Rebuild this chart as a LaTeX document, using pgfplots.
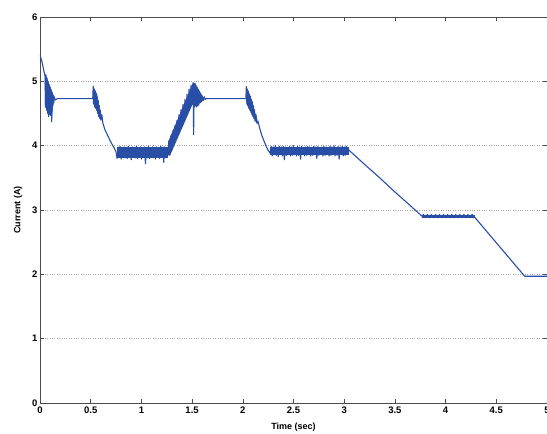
\documentclass[border=0pt]{standalone}
\usepackage{pgfplots}
\pgfplotsset{compat=1.18}
\usepackage{fontspec}
\setmainfont{Liberation Sans}
\definecolor{mblue}{RGB}{40,78,165}
\begin{document}
\begin{tikzpicture}
\begin{axis}[
  scale only axis,
  width=507pt, height=386pt,
  xmin=0, xmax=5, ymin=0, ymax=6,
  xtick={0,0.5,1,1.5,2,2.5,3,3.5,4,4.5,5},
  xticklabels={0,0.5,1,1.5,2,2.5,3,3.5,4,4.5,5},
  ytick={0,1,2,3,4,5,6},
  tick align=inside,
  major tick length=4pt,
  tick style={black!70, line width=0.5pt},
  axis line style={black!70, line width=0.7pt},
  ymajorgrids,
  grid style={dotted, black!35, line width=0.6pt},
  ticklabel style={font=\fontsize{9.5}{10}\selectfont\bfseries},
  /pgf/number format/assume math mode=true,
  xlabel={Time (sec)},
  ylabel={Current (A)},
  label style={font=\fontsize{9}{10}\selectfont\bfseries},
  xlabel style={yshift=-3pt},
  ylabel style={yshift=3pt},
  xticklabel style={yshift=0pt},
  yticklabel style={xshift=1pt},
]
% dense noise bands (envelopes)
\addplot[fill=mblue, draw=mblue, line width=0.6pt] coordinates {(0.05,5.1) (0.09,4.95) (0.13,4.79) (0.13,4.66) (0.115,4.45) (0.085,4.5) (0.05,4.62)} -- cycle;
\addplot[fill=mblue, draw=mblue, line width=0.6pt] coordinates {(0.525,4.9) (0.56,4.8) (0.60,4.48) (0.60,4.40) (0.56,4.56) (0.525,4.66)} -- cycle;
\addplot[fill=mblue, draw=mblue, line width=0.6pt] coordinates {(0.76,3.82) (1.26,3.82) (1.26,3.97) (0.76,3.97)} -- cycle;
\addplot[fill=mblue, draw=mblue, line width=0.6pt] coordinates {(1.26,3.86) (1.27,4.07) (1.51,4.97) (1.53,4.96) (1.60,4.77) (1.60,4.70) (1.53,4.62) (1.50,4.64) (1.28,3.85)} -- cycle;
\addplot[fill=mblue, draw=mblue, line width=0.6pt] coordinates {(2.035,4.9) (2.07,4.77) (2.14,4.40) (2.14,4.35) (2.07,4.56) (2.04,4.65)} -- cycle;
\addplot[fill=mblue, draw=mblue, line width=0.6pt] coordinates {(2.27,3.86) (3.04,3.86) (3.04,3.98) (2.27,3.98)} -- cycle;
\addplot[fill=mblue, draw=mblue, line width=0.6pt] coordinates {(3.77,2.885) (4.28,2.885) (4.28,2.925) (3.77,2.925)} -- cycle;
% signal
\addplot[mblue, line width=1.1pt, line join=round] coordinates {
(0,5.41) (0.02,5.3) (0.04,5.15) (0.05,5.08) (0.055,4.6) (0.06,5.1) (0.065,4.55) (0.07,5.05) (0.075,4.5) (0.08,5.0) (0.085,4.45) (0.09,4.95) (0.095,4.6) (0.1,4.9) (0.105,4.55) (0.11,4.85) (0.115,4.37) (0.12,4.8) (0.125,4.62) (0.13,4.78) (0.135,4.66) (0.14,4.76) (0.15,4.71) (0.17,4.73)
(0.52,4.73) (0.525,4.92) (0.53,4.65) (0.535,4.88) (0.54,4.6) (0.545,4.85) (0.55,4.58) (0.555,4.8) (0.56,4.55) (0.565,4.75) (0.57,4.5) (0.575,4.7) (0.58,4.45) (0.585,4.62) (0.59,4.42) (0.595,4.55) (0.60,4.40) (0.61,4.48) (0.62,4.35) (0.64,4.25) (0.67,4.15) (0.70,4.05) (0.73,3.97) (0.75,3.9)
(0.76,3.80) (0.77,3.98) (0.78,3.82) (0.79,3.99) (0.80,3.79) (0.81,3.97) (0.82,3.83) (0.83,3.98) (0.84,3.81) (0.85,3.96) (0.86,3.80) (0.87,3.99) (0.88,3.82) (0.89,3.97) (0.90,3.78) (0.91,3.98) (0.92,3.83) (0.93,3.96) (0.94,3.81) (0.95,3.99) (0.96,3.80) (0.97,3.97) (0.98,3.82) (0.99,3.98) (1.00,3.79) (1.01,3.96) (1.02,3.83) (1.03,3.98) (1.04,3.72) (1.05,3.97) (1.06,3.81) (1.07,3.99) (1.08,3.80) (1.09,3.97) (1.10,3.82) (1.11,3.98) (1.12,3.81) (1.13,3.96) (1.14,3.79) (1.15,3.98) (1.16,3.83) (1.17,3.97) (1.18,3.80) (1.19,3.99) (1.20,3.82) (1.21,3.97) (1.22,3.74) (1.23,3.98) (1.24,3.81) (1.25,3.97) (1.26,3.85)
(1.27,4.07) (1.28,3.86) (1.29,4.15) (1.30,3.93) (1.31,4.23) (1.32,4.01) (1.33,4.31) (1.34,4.09) (1.35,4.39) (1.36,4.17) (1.37,4.48) (1.38,4.24) (1.39,4.56) (1.40,4.32) (1.41,4.64) (1.42,4.40) (1.43,4.72) (1.44,4.47) (1.45,4.80) (1.46,4.55) (1.47,4.88) (1.48,4.60) (1.49,4.94) (1.50,4.66) (1.51,4.98) (1.515,4.17) (1.52,4.95) (1.525,4.60) (1.53,4.97) (1.535,4.62) (1.54,4.90) (1.545,4.60) (1.55,4.88) (1.555,4.62) (1.56,4.85) (1.565,4.63) (1.57,4.83) (1.575,4.66) (1.58,4.80) (1.585,4.67) (1.59,4.78) (1.595,4.69) (1.60,4.77) (1.61,4.70) (1.62,4.76) (1.63,4.72) (1.64,4.73)
(2.03,4.73) (2.035,4.92) (2.04,4.65) (2.045,4.88) (2.05,4.62) (2.055,4.85) (2.06,4.58) (2.065,4.80) (2.07,4.55) (2.075,4.77) (2.08,4.52) (2.085,4.72) (2.09,4.48) (2.095,4.68) (2.10,4.45) (2.105,4.62) (2.11,4.42) (2.115,4.56) (2.12,4.38) (2.13,4.48) (2.14,4.35) (2.15,4.38) (2.17,4.25) (2.19,4.15) (2.21,4.07) (2.23,3.99) (2.25,3.93) (2.27,3.88)
(2.28,3.99) (2.29,3.84) (2.30,3.98) (2.31,3.86) (2.32,4.00) (2.33,3.85) (2.34,3.97) (2.35,3.83) (2.36,3.99) (2.37,3.86) (2.38,3.98) (2.39,3.84) (2.40,3.99) (2.41,3.78) (2.42,3.98) (2.43,3.85) (2.44,3.97) (2.45,3.86) (2.46,3.99) (2.47,3.84) (2.48,3.98) (2.49,3.85) (2.50,4.00) (2.51,3.86) (2.52,3.97) (2.53,3.84) (2.54,3.99) (2.55,3.85) (2.56,3.98) (2.57,3.79) (2.58,3.99) (2.59,3.86) (2.60,3.97) (2.61,3.84) (2.62,3.98) (2.63,3.85) (2.64,3.99) (2.65,3.86) (2.66,3.98) (2.67,3.84) (2.68,3.97) (2.69,3.85) (2.70,3.99) (2.71,3.86) (2.72,3.98) (2.73,3.80) (2.74,3.99) (2.75,3.85) (2.76,3.97) (2.77,3.86) (2.78,3.98) (2.79,3.84) (2.80,3.99) (2.81,3.85) (2.82,3.98) (2.83,3.86) (2.84,3.97) (2.85,3.84) (2.86,3.99) (2.87,3.85) (2.88,3.98) (2.89,3.86) (2.90,4.00) (2.91,3.84) (2.92,3.97) (2.93,3.85) (2.94,3.99) (2.95,3.79) (2.96,3.98) (2.97,3.86) (2.98,3.99) (2.99,3.84) (3.00,3.98) (3.01,3.85) (3.02,3.99) (3.03,3.86) (3.04,3.94)
(3.2,3.71) (3.35,3.50) (3.5,3.28) (3.65,3.07) (3.77,2.90)
(3.78,2.93) (3.80,2.88) (3.82,2.93) (3.84,2.88) (3.86,2.93) (3.88,2.88) (3.90,2.93) (3.92,2.88) (3.94,2.93) (3.96,2.88) (3.98,2.93) (4.00,2.88) (4.02,2.93) (4.04,2.88) (4.06,2.93) (4.08,2.88) (4.10,2.93) (4.12,2.88) (4.14,2.93) (4.16,2.88) (4.18,2.93) (4.20,2.88) (4.22,2.93) (4.24,2.88) (4.26,2.93) (4.28,2.90)
(4.78,1.97) (5.0,1.97)
};
\end{axis}
\pgfresetboundingbox
\path ([shift={(-40pt,-31pt)}]current axis.south west) rectangle ([shift={(0pt,17pt)}]current axis.north east);
\end{tikzpicture}
\end{document}
